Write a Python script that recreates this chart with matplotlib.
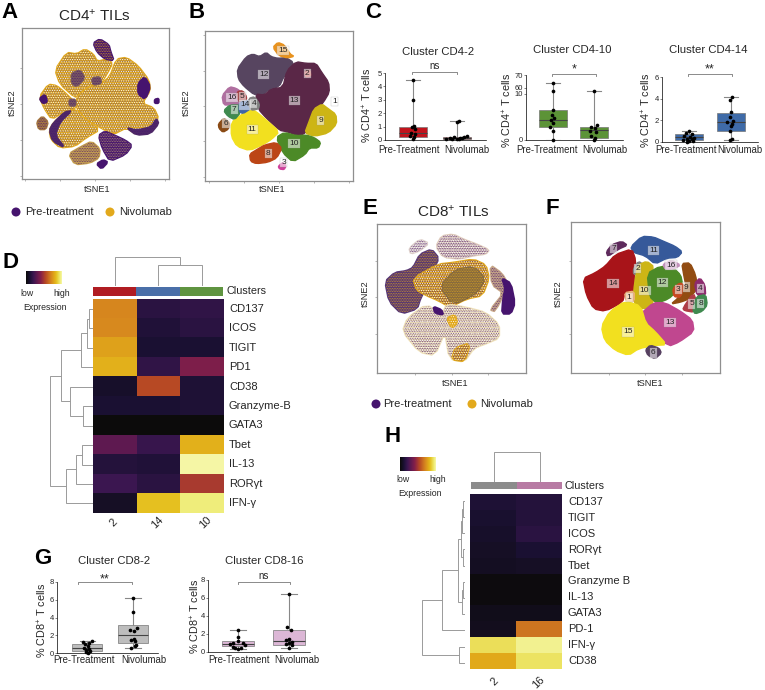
import numpy as np
import matplotlib
matplotlib.use('Agg')
from matplotlib import pyplot as plt
from matplotlib.colors import LinearSegmentedColormap
from matplotlib.patches import Polygon, Circle

W, H = 765, 690
PURPLE = '#46146e'
GOLD = '#e2a91c'
GREY = '#8a8a8a'
TXT = '#262626'

plt.rcParams['font.family'] = ['Liberation Sans', 'DejaVu Sans']
plt.rcParams['mathtext.fontset'] = 'custom'
plt.rcParams['mathtext.rm'] = 'Liberation Sans'
plt.rcParams['mathtext.default'] = 'regular'
plt.rcParams['hatch.linewidth'] = 0.4

# ---- heatmap values
D_ROWS = ['CD137', 'ICOS', 'TIGIT', 'PD1', 'CD38', 'Granzyme-B', 'GATA3', 'Tbet', 'IL-13', 'RORγt', 'IFN-γ']
D_COLS = ['2', '14', '10']
D_VALUES = [[.70, .15, .17], [.71, .12, .15], [.77, .10, .10], [.81, .17, .39],
            [.08, .55, .11], [.10, .10, .11], [0, 0, 0], [.30, .19, .81],
            [.13, .12, 1.0], [.20, .15, .50], [.07, .85, .96]]
D_COL_COLORS = ['#b01c22', '#4a6fa8', '#5f9440']

H_ROWS = ['CD137', 'TIGIT', 'ICOS', 'RORγt', 'Tbet', 'Granzyme B', 'IL-13', 'GATA3', 'PD-1', 'IFN-γ', 'CD38']
H_COLS = ['2', '16']
H_VALUES = [[.11, .13], [.09, .13], [.08, .15], [.07, .10], [.06, .07], [.01, .01],
            [.01, .01], [.04, .04], [.05, .66], [.92, .98], [.79, .93]]
H_COL_COLORS = ['#8c8c8c', '#b87ba4']

# ---- boxplot values: (whislo, q1, med, q3, whishi)
C1_BOX = [(0.02, .20, .55, 1.0, 4.45), (.05, .10, .17, .25, 1.45)]
C1_PTS = [[4.45, 2.95, 1.05, .95, .8, .55, .45, .3, .2, .05],
          [1.45, 1.35, .28, .22, .2, .18, .15, .12, .1, .1, .08, .05]]
C1_OFF = [[0, 0, 1, -1, 2, -2, 2, -3, 1, 0],
          [1.5, 0, 10, 7, -3, 3, -7, 5, -11, 0, -5, 2]]
C2_BOX = [(.1, 2.7, 4.35, 6.4, 63.4), (0, .36, 2.2, 2.75, 36)]
C2_PTS = [[63.4, 33.5, 6.4, 5.4, 4.7, 4.3, 3.6, 2.7, 2, .1],
          [36, 3.3, 2.9, 2.5, 2, 1.8, .9, .4, 0]]
C2_OFF = [[0, 0, 0, -1, 1, -2, 0, -3, 0, 0],
          [0, 3, -3, 1, -4, 2, -3, 1, 0]]
C3_BOX = [(0, .15, .45, .7, 1.0), (.15, 1.05, 1.85, 2.7, 4.2)]
C3_PTS = [[1.0, .85, .7, .6, .5, .4, .3, .25, .15, .1, .05, 0],
          [4.2, 3.9, 2.75, 2.3, 1.95, 1.85, 1.7, 1.45, 1.05, .3, .15]]
C3_OFF = [[0, -3, 3, -5, 1, 5, -2, 3, -6, 0, 4, -2],
          [1, -1, 0, -1, 2, -4, 1, 0, -1, 1, -1]]
G1_BOX = [(0, .2, .55, 1.0, 1.3), (.55, 1.1, 2.0, 3.15, 6.15)]
G1_PTS = [[1.35, 1.2, 1.1, 1.05, .8, .6, .5, .35, .25, .1, 0],
          [6.15, 4.6, 2.8, 2.6, 2.5, 1.55, 1.45, 1.3, .9, .75, .55]]
G1_OFF = [[5, -4, 2, -2, 1, -3, 2, -1, 3, -1, 1],
          [0, 0, 4, -3, 1, 1, -2, 2, 3, 2, -2]]
G2_BOX = [(.33, .62, .88, 1.2, 2.45), (.45, .78, 1.2, 2.43, 6.4)]
G2_PTS = [[2.45, 1.7, 1.2, 1.05, .95, .85, .75, .6, .5, .4, .33],
          [6.4, 2.8, 2.45, 1.5, 1.3, 1.15, 1.0, .9, .8, .5]]
G2_OFF = [[0, 0, 0, -5, 5, -8, 7, -5, 3, -3, 0],
          [0, -2, 2, 0, -3, 3, 0, -3, 3, 0]]

# ---- piecewise y axis of the CD4-10 panel (value, height)
C2_VALS = [0, 10, 60, 70]
C2_HEIGHT = [0, 138, 155, 193]

# ---- cluster outlines of panel B, read in crop pixels
B_CLUSTERS = {
    '12': ('#574560', [(113,130),(140,93),(160,85),(180,93),(200,80),(215,93),(235,98),(260,96),(282,110),(274,130),(252,155),(240,182),(208,192),(190,208),(165,208),(133,182),(116,160)]),
    '13': ('#5a2747', [(168,205),(195,208),(215,190),(250,185),(262,135),(290,108),(320,113),(350,113),(367,140),(388,170),(390,200),(372,230),(347,260),(337,300),(310,328),(290,328),(262,318),(240,314),(200,277),(176,250)]),
    '11': ('#f2e01f', [(95,290),(125,268),(150,248),(170,258),(200,283),(240,318),(215,342),(190,357),(150,375),(112,362),(95,332)]),
    '16': ('#b06fa0', [(67,210),(90,183),(110,188),(127,200),(117,242),(95,238),(72,238)]),
    '5': ('#a83a3c', [(112,198),(130,195),(142,215),(137,227),(115,227)]),
    '7': ('#3f8a4f', [(72,255),(90,238),(122,238),(122,262),(105,282),(85,272)]),
    '14': ('#3e66a8', [(120,228),(152,225),(152,250),(130,264),(118,257)]),
    '4': ('#808080', [(148,218),(165,213),(180,235),(177,250),(155,254),(148,240)]),
    '6': ('#8a4a14', [(56,295),(72,278),(90,290),(87,310),(70,320),(58,308)]),
    '15': ('#e8921e', [(220,65),(235,50),(255,58),(272,85),(284,92),(265,97),(238,90)]),
    '9': ('#cdb515', [(343,250),(368,235),(385,248),(410,266),(412,295),(387,322),(345,332),(316,322),(328,290)]),
    '10': ('#4c8a27', [(230,335),(255,320),(290,330),(320,328),(345,336),(364,350),(357,367),(330,367),(317,387),(280,409),(250,382)]),
    '8': ('#bc4516', [(150,385),(175,370),(195,358),(230,350),(247,368),(232,397),(205,410),(170,414),(153,407)]),
    '3': ('#d03f9c', [(236,422),(250,410),(260,420),(254,432),(240,430)]),
    '2': ('#c04a4a', [(316,136),(332,133),(334,152),(318,154)]),
}
B_LABELS = {'12': (192,147), '13': (285,224), '11': (158,311), '16': (97,216), '5': (128,212),
            '7': (104,252), '14': (137,238), '4': (163,233), '6': (79,294), '15': (251,74),
            '9': (364,284), '10': (283,353), '8': (206,383), '3': (253,411), '2': (323,144), '1': (405,228)}

# ---- cluster outlines of panel F
F_CLUSTERS = {
    '11': ('#36599a', [(196,80),(230,48),(265,50),(295,63),(330,78),(352,95),(337,112),(305,114),(270,132),(240,107),(205,97)]),
    '14': ('#a81419', [(53,175),(90,158),(120,138),(150,103),(200,86),(212,120),(207,160),(207,217),(180,217),(172,247),(120,274),(85,267),(63,225)]),
    '7': ('#5e2a5c', [(123,95),(140,73),(170,63),(187,75),(160,87),(128,109)]),
    '2': ('#808080', [(205,145),(220,123),(237,135),(222,167),(205,162)]),
    '10': ('#cdb515', [(218,135),(245,123),(267,140),(250,165),(252,215),(267,250),(235,270),(203,245),(208,190)]),
    '12': ('#4c8a27', [(246,160),(285,138),(325,143),(347,165),(352,190),(332,217),(310,237),(275,250),(253,230)]),
    '16': ('#c490bd', [(293,132),(320,120),(347,135),(325,147),(300,147)]),
    '1': ('#eeb27a', [(178,218),(207,213),(207,245),(183,245)]),
    '9': ('#924c12', [(350,130),(375,128),(392,165),(397,205),(372,237),(345,247),(318,252),(338,235),(363,200),(356,165)]),
    '3': ('#c9481e', [(323,205),(345,188),(357,195),(347,232),(326,230)]),
    '4': ('#8e2a6e', [(388,190),(405,173),(420,195),(422,227),(396,227)]),
    '5': ('#b03c46', [(353,265),(385,218),(397,250),(387,277),(358,272)]),
    '8': ('#3f8a4f', [(383,270),(393,230),(422,223),(427,255),(412,274),(390,282)]),
    '13': ('#c0478f', [(228,280),(265,248),(300,248),(345,273),(382,300),(387,335),(342,367),(310,380),(268,335),(238,312)]),
    '15': ('#f2e01f', [(108,320),(133,275),(180,243),(227,258),(242,310),(270,335),(305,375),(265,377),(220,387),(190,407),(150,392),(118,362)]),
    '6': ('#564060', [(241,390),(255,376),(282,385),(289,400),(270,417),(248,407)]),
}
F_LABELS = {'11': (265,91), '14': (143,191), '7': (145,85), '2': (218,145), '10': (238,211), '12': (292,187),
            '16': (317,135), '1': (192,232), '9': (363,201), '3': (339,209), '4': (406,205), '5': (380,252),
            '8': (407,251), '13': (314,308), '15': (188,336), '6': (264,399)}

# ---- patches of panel A and E: outline, background, dot colour
A_DOTS = '#6f4f66'
A_PATCHES = [
    ([(135,150),(170,98),(200,103),(225,88),(250,103),(262,125),(290,118),(308,130),(292,160),(272,192),(235,197),(205,222),(195,232),(150,192)], GOLD, A_DOTS),
    ([(202,228),(240,200),(270,195),(300,170),(320,118),(350,113),(385,138),(417,180),(422,210),(397,250),(432,263),(447,295),(422,337),(380,342),(350,322),(310,342),(272,322),(230,297),(198,262)], GOLD, A_DOTS),
    ([(88,230),(115,193),(140,197),(165,218),(198,250),(200,262),(160,275),(125,297),(103,265)], GOLD, A_DOTS),
    ([(118,330),(130,308),(165,275),(200,268),(228,300),(270,328),(228,352),(195,377),(150,382),(123,357)], GOLD, A_DOTS),
    ([(80,305),(97,288),(114,305),(107,327),(86,327)], '#a87a40', PURPLE),
    ([(176,400),(215,378),(245,363),(270,385),(267,412),(240,427),(195,432)], '#c6a050', PURPLE),
    ([(250,70),(270,58),(297,75),(302,95),(312,122),(285,117),(262,97)], PURPLE, GOLD),
    ([(266,345),(285,333),(310,343),(347,360),(367,375),(347,402),(300,422),(278,385)], PURPLE, '#c0a070'),
    ([(435,238),(447,235),(447,249),(435,249)], PURPLE, PURPLE),
    ([(260,430),(280,418),(294,425),(275,445)], PURPLE, PURPLE),
    ([(385,190),(405,170),(422,200),(407,237),(385,222)], PURPLE, PURPLE),
    ([(118,330),(130,308),(165,275),(185,272),(150,305),(135,345),(165,382),(128,362)], '#4f2a68', PURPLE),
    ([(185,160),(210,150),(225,175),(200,200),(185,190)], '#7a5a60', PURPLE),
    ([(245,175),(270,170),(275,190),(250,195)], '#7a5a60', PURPLE),
    ([(88,235),(105,223),(112,245),(98,250)], PURPLE, PURPLE),
    ([(350,322),(380,330),(425,320),(440,295),(447,310),(422,340),(380,344)], '#4f2a68', PURPLE),
    ([(178,238),(197,238),(197,257),(178,257)], '#7a5a60', PURPLE),
]
E_PATCHES = [
    ([(46,200),(75,173),(110,168),(130,158),(150,118),(185,103),(207,130),(187,170),(177,205),(152,250),(142,282),(95,297),(58,260)], '#553474', GOLD),
    ([(130,190),(205,148),(250,143),(310,133),(347,150),(357,190),(337,242),(290,252),(240,277),(205,257),(170,242),(140,225)], GOLD, PURPLE),
    ([(210,215),(255,165),(310,155),(345,190),(320,235),(250,270)], '#84683f', GOLD),
    ([(118,100),(150,73),(177,85),(150,107),(123,117)], '#e0d2cc', PURPLE),
    ([(198,95),(215,63),(250,58),(280,73),(320,88),(357,105),(347,117),(310,122),(270,132),(220,127)], '#e0ccbc', PURPLE),
    ([(98,350),(113,310),(170,268),(215,303),(230,268),(290,278),(347,293),(387,330),(387,370),(347,387),(312,400),(282,442),(238,432),(225,352),(195,422),(148,412)], '#f0e2b8', PURPLE),
    ([(230,310),(255,300),(262,325),(245,340)], GOLD, GOLD),
    ([(255,400),(300,385),(285,440),(245,435)], GOLD, PURPLE),
    ([(190,275),(215,285),(220,300),(195,295)], PURPLE, PURPLE),
    ([(360,150),(395,175),(415,210),(375,290),(360,285),(400,235),(365,210)], '#c8a888', PURPLE),
    ([(395,190),(422,205),(434,265),(422,297),(395,297),(398,255),(405,220)], PURPLE, PURPLE),
]

# ---- dendrogram merges: merge position, leaf a pos, a height, leaf b pos, b height (crop pixels)
D_ROW_MERGES = [(267,177,275,235,275), (260,206,267,294,275), (242,250,260,352,275), (248,468,275,527,275),
                (211,410,275,497,248), (182,300,242,453,211), (247,585,275,644,275), (229,615,247,702,275),
                (199,658,229,760,275), (151,377,182,709,199)]
D_COL_MERGES = [(46,475,106,605,106), (20,345,106,540,46)]
H_ROW_MERGES = [(220,242,222,291,222), (216,266,220,340,222), (218,388,222,437,222), (214,303,216,412,218),
                (219,485,222,533,222), (217,509,219,582,222), (205,358,214,545,217), (157,451,205,631,222),
                (207,680,222,728,222), (97,541,157,704,207)]
H_COL_MERGES = [(97,312,182,449,182)]

CMAP = LinearSegmentedColormap.from_list('expr', [
    (0, '#0c0b0b'), (.1, '#1b1133'), (.2, '#3b1650'), (.3, '#5f1a50'), (.4, '#821f4a'), (.5, '#a83a30'),
    (.55, '#b84a24'), (.7, '#d6861f'), (.8, '#e2ac1a'), (.85, '#e5c020'), (.95, '#eeeb70'), (1, '#f5f6a5')])


def px_axes(fig, left, top, right, bottom):
    return fig.add_axes([left / W, 1 - bottom / H, (right - left) / W, (bottom - top) / H])


def rounded(outline, rounds=1):
    # corner cutting, the blobs are not polygons in the picture
    pts = np.array(outline, dtype=float)
    for _ in range(rounds):
        nxt = np.roll(pts, -1, axis=0)
        pts = np.column_stack([.8 * pts + .2 * nxt, .2 * pts + .8 * nxt]).reshape(-1, 2)
    return pts


def tsne_panel(fig, box, crop, xticks, yticks):
    ax = px_axes(fig, *box)
    ax.set_xlim(crop[0], crop[1])
    ax.set_ylim(crop[3], crop[2])
    ax.set_xticks(xticks)
    ax.set_yticks(yticks)
    ax.tick_params(length=1.5, width=0.5, color='#999999', labelleft=False, labelbottom=False)
    for s in ax.spines.values():
        s.set_color('#8f8f8f')
        s.set_linewidth(0.9)
    return ax


def draw_clusters(ax, clusters, labels):
    for name in clusters:
        color, outline = clusters[name]
        ax.add_patch(Polygon(rounded(outline), closed=True, fc=color, ec=color, lw=1.0, joinstyle='round'))
    for name in labels:
        ax.text(*labels[name], name, fontsize=6, color='#222222', ha='center', va='center',
                bbox=dict(boxstyle='square,pad=0.15', fc='white', ec='#999999', lw=0.3, alpha=0.55))


def draw_mixed(ax, patches):
    for outline, back, dots in patches:
        pts = rounded(outline)
        ax.add_patch(Polygon(pts, closed=True, fc=back, ec=back, lw=1.4, joinstyle='round'))
        if dots != back:
            ax.add_patch(Polygon(pts, closed=True, fc='none', ec=dots, lw=0, hatch='..........'))
        if back in (GOLD, '#f0e2b8', '#e0d2cc', '#e0ccbc'):
            ax.add_patch(Polygon(pts, closed=True, fc='none', ec='white', lw=0, hatch='.......'))


def box_panel(fig, box, centers, ylim, yticks, stats, points, offsets, color, width_px, scale=None):
    ax = px_axes(fig, *box)
    x_per_px = 1.0 / (centers[1] - centers[0])
    ax.set_xlim(1 - (centers[0] - box[0]) * x_per_px, 1 + (box[2] - centers[0]) * x_per_px)
    if scale is not None:
        ax.set_yscale('function', functions=scale)
    ax.set_ylim(*ylim)
    items = [dict(whislo=s[0], q1=s[1], med=s[2], q3=s[3], whishi=s[4], fliers=[]) for s in stats]
    ax.bxp(items, positions=[1, 2], widths=width_px * x_per_px, patch_artist=True, manage_ticks=False,
           showfliers=False,
           boxprops=dict(facecolor=color, edgecolor='#777777', linewidth=0.5),
           medianprops=dict(color='#444444', linewidth=0.8),
           whiskerprops=dict(color='#888888', linewidth=0.8),
           capprops=dict(color='#888888', linewidth=0.8))
    for i in range(2):
        xs = [i + 1 + o * x_per_px for o in offsets[i]]
        ax.scatter(xs, points[i], s=7, color='black', zorder=5, linewidths=0, clip_on=False)
    ax.set_xticks([])
    ax.set_yticks(yticks)
    ax.set_yticklabels([str(t) for t in yticks])
    ax.tick_params(axis='y', labelsize=5.5, length=1.5, width=0.5, pad=0.8, labelcolor=TXT, color='#555555')
    ax.minorticks_off()
    ax.spines['top'].set_visible(False)
    ax.spines['right'].set_visible(False)
    ax.spines['left'].set_linewidth(0.5)
    ax.spines['bottom'].set_linewidth(0.5)
    ax.patch.set_alpha(0)
    return ax


def heatmap(fig, box, bar, values, col_colors):
    ax = px_axes(fig, *box)
    ax.imshow(values, cmap=CMAP, vmin=0, vmax=1, aspect='auto', interpolation='nearest')
    ax.axis('off')
    bar_ax = px_axes(fig, *bar)
    for i, c in enumerate(col_colors):
        bar_ax.bar(i, 1, width=1, color=c)
    bar_ax.set_xlim(-.5, len(col_colors) - .5)
    bar_ax.set_ylim(0, 1)
    bar_ax.axis('off')


def color_legend(fig, box):
    ax = px_axes(fig, *box)
    ax.imshow(np.linspace(0, 1, 64)[None, :], cmap=CMAP, vmin=0, vmax=1, aspect='auto')
    ax.axis('off')


def dendro(ov, merges, to_px, horizontal):
    # a tree drawn from its merges, turned into figure pixels by to_px
    for m, a, ha, b, hb in merges:
        if horizontal:
            pts = [(ha, a), (m, a), (m, b), (hb, b)]
        else:
            pts = [(a, ha), (a, m), (b, m), (b, hb)]
        pts = [to_px(*p) for p in pts]
        ov.plot([p[0] for p in pts], [p[1] for p in pts], color='#9a9a9a', lw=0.7, solid_joinstyle='miter')


def main():
    fig = plt.figure(figsize=(W / 100, H / 100), dpi=100)

    # panel A
    ax = tsne_panel(fig, (21.5, 28, 169, 179), (34, 478, 25, 475), [46, 151, 256, 361, 466], [145, 252, 358, 465])
    draw_mixed(ax, A_PATCHES)
    # panel B
    ax = tsne_panel(fig, (205, 31, 353, 181), (16, 461, 16, 466), [28, 134, 239, 344, 450], [28, 135, 240, 347, 453])
    draw_clusters(ax, B_CLUSTERS, B_LABELS)
    # panel E
    ax = tsne_panel(fig, (377, 224, 526, 373), (22, 467, 27, 475), [135, 245, 355], [137, 247, 358])
    draw_mixed(ax, E_PATCHES)
    # panel F
    ax = tsne_panel(fig, (571, 222, 720, 373), (17, 465, 5, 460), [130, 240, 352], [122, 232, 342])
    draw_clusters(ax, F_CLUSTERS, F_LABELS)

    # boxplots
    box_panel(fig, (385, 73, 486, 140), (413, 457), (0, 5), [0, 1, 2, 3, 4, 5], C1_BOX, C1_PTS, C1_OFF, '#c1141c', 28)
    c2_scale = (lambda v: np.interp(v, C2_VALS, C2_HEIGHT), lambda h: np.interp(h, C2_HEIGHT, C2_VALS))
    box_panel(fig, (526, 75, 623, 140), (553, 594), (0, 70), [0, 10, 60, 70], C2_BOX, C2_PTS, C2_OFF, '#5c9337', 28, scale=c2_scale)
    box_panel(fig, (662, 77, 758, 142), (689, 731), (0, 6), [0, 2, 4, 6], C3_BOX, C3_PTS, C3_OFF, '#3f6ba8', 28)
    box_panel(fig, (57, 582, 158, 653), (87, 133), (0, 8), [0, 2, 4, 6, 8], G1_BOX, G1_PTS, G1_OFF, '#bdbdbd', 30)
    box_panel(fig, (208, 580, 310, 652), (238, 289), (0, 8), [0, 2, 4, 6, 8], G2_BOX, G2_PTS, G2_OFF, '#dcb7d6', 32)

    # heatmaps
    heatmap(fig, (93, 299, 223, 513), (93, 287, 223, 296), D_VALUES, D_COL_COLORS)
    heatmap(fig, (470, 494, 562, 669), (471, 482, 562, 489), H_VALUES, H_COL_COLORS)
    color_legend(fig, (26, 271, 62, 284))
    color_legend(fig, (400, 457, 436, 471))

    # overlay in figure pixels for text and trees
    ov = fig.add_axes([0, 0, 1, 1], zorder=10)
    ov.set_xlim(0, W)
    ov.set_ylim(H, 0)
    ov.axis('off')
    ov.patch.set_alpha(0)

    def txt(x, y, s, size=7, **kw):
        kw.setdefault('ha', 'center')
        kw.setdefault('va', 'center')
        kw.setdefault('color', TXT)
        ov.text(x, y, s, fontsize=size, **kw)

    for s, x, y in [('A', 10, 13), ('B', 197, 13), ('C', 373, 13), ('D', 11, 263),
                    ('E', 370, 208), ('F', 552, 208), ('G', 43, 558), ('H', 393, 437)]:
        txt(x, y, s, 16, fontweight='bold', color='black')

    txt(94, 16, 'CD4$^{+}$ TILs', 11)
    txt(453, 212, 'CD8$^{+}$ TILs', 11)
    for x, y, rot in [(97, 189, 0), (12, 103, 90), (272, 189, 0), (186, 103, 90),
                      (455, 383, 0), (365, 294, 90), (650, 383, 0), (558, 294, 90)]:
        txt(x, y, 'tSNE1' if rot == 0 else 'tSNE2', 6.6, rotation=rot)

    for cx, tx, y in [(16, 25, 212), (110, 119, 212), (376, 383, 404), (472, 480, 404)]:
        col = PURPLE if cx in (16, 376) else GOLD
        ov.add_patch(Circle((cx, y), 4.5, fc=col, ec='none'))
        txt(tx, y, 'Pre-treatment' if col == PURPLE else 'Nivolumab', 8, ha='left')

    # titles, brackets and labels of the boxplots
    for s, x, y in [('Cluster CD4-2', 438, 52), ('Cluster CD4-10', 572, 50), ('Cluster CD4-14', 708, 50),
                    ('Cluster CD8-2', 114, 561), ('Cluster CD8-16', 264, 561)]:
        txt(x, y, s, 8.2)
    for x0, x1, y, s, ty in [(412, 457, 72, 'ns', 66), (552, 596, 74, '*', 69), (688, 732, 74, '**', 69),
                             (78, 132, 582, '**', 579), (238, 290, 582, 'ns', 576)]:
        ov.plot([x0, x0, x1, x1], [y + 2, y, y, y + 2], color='#777777', lw=0.6)
        txt((x0 + x1) / 2, ty, s, 7 if s == 'ns' else 9)
    for x, y, s in [(367, 105, 'CD4'), (507, 110, 'CD4'), (646, 110, 'CD4'), (42, 620, 'CD8'), (195, 616, 'CD8')]:
        txt(x, y, '% ' + s + '$^{+}$ T cells', 7.8, rotation=90)
    for x, y in [(409, 150), (547, 150), (686, 150), (84, 660), (239, 660)]:
        txt(x, y, 'Pre-Treatment', 6.9)
    for x, y in [(467, 150), (605, 150), (740, 150), (144, 660), (297, 660)]:
        txt(x, y, 'Nivolumab', 6.9)

    # heatmap labels
    row_h = (513 - 299) / len(D_ROWS)
    for i, s in enumerate(D_ROWS):
        txt(229, 299 + row_h * (i + .5), s, 8, ha='left')
    row_h = (669 - 494) / len(H_ROWS)
    for i, s in enumerate(H_ROWS):
        txt(568, 494 + row_h * (i + .5), s, 8, ha='left')
    txt(227, 291, 'Clusters', 7.8, ha='left')
    txt(565, 486, 'Clusters', 7.8, ha='left')
    for s, x in zip(D_COLS, (114, 157, 205)):
        txt(x, 523, s, 8, rotation=45)
    for s, x in zip(H_COLS, (495, 538)):
        txt(x, 682, s, 8, rotation=45)
    for x, y, s in [(27, 293, 'low'), (62, 293, 'high'), (45, 307, 'Expression'),
                    (403, 479, 'low'), (438, 479, 'high'), (420, 493, 'Expression')]:
        txt(x, y, s, 6.3)

    # dendrograms (3x)
    d_px = lambda x, y: (x / 3, 250 + y / 3)
    h_px = lambda x, y: (390 + x / 3, 420 + y / 3)
    dendro(ov, D_ROW_MERGES, d_px, True)
    dendro(ov, D_COL_MERGES, d_px, False)
    dendro(ov, H_ROW_MERGES, h_px, True)
    dendro(ov, H_COL_MERGES, h_px, False)

    fig.savefig('out.png', dpi=100, facecolor='white')


if __name__ == "__main__":
    main()
